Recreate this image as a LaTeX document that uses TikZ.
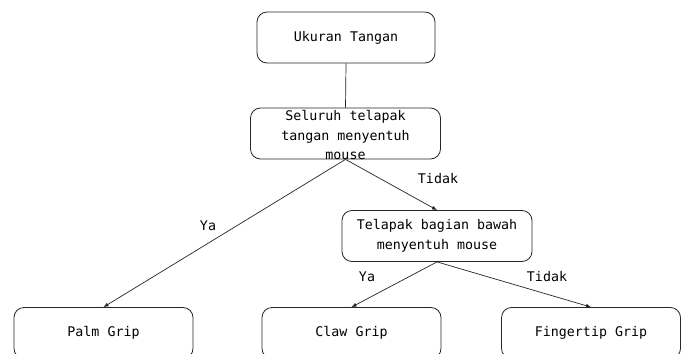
\documentclass[tikz,border=0pt]{standalone}
\usepackage{fontspec}
\newfontfamily\diagmono{DejaVu Sans Mono}
\usetikzlibrary{arrows.meta}
\begin{document}
\begin{tikzpicture}[x=1pt,y=-1pt,
  every node/.style={font=\diagmono\fontsize{13.3}{19.5}\selectfont, text=black},
  box/.style={draw=black!85, line width=0.8pt, rounded corners=10pt, rectangle,
              inner sep=0pt, align=center, minimum height=51pt},
  conn/.style={draw=black!85, line width=0.7pt},
  arr/.style={conn, -{Latex[length=5pt,width=4pt]}},
  lbl/.style={inner sep=1pt}]
\useasboundingbox (0,0) rectangle (687,353);
\fill[white] (0,0) rectangle (687,353);
\node[box, minimum width=178pt] (u) at (346,37.5) {Ukuran Tangan};
\node[box, minimum width=190pt] (s) at (345.5,133.5) {};
\node[inner sep=0pt, align=center] (stxt) at (345.5,135.5) {Seluruh telapak\\tangan menyentuh\\mouse};
\node[box, minimum width=190pt] (t) at (437,236) {Telapak bagian bawah\\menyentuh mouse};
\node[box, minimum width=179pt] (palm) at (103.5,333) {Palm Grip};
\node[box, minimum width=179pt] (claw) at (351.5,333) {Claw Grip};
\node[box, minimum width=179pt] (finger) at (591,333) {Fingertip Grip};
\draw[conn] (u.south) -- (s.north);
\draw[arr] (s.south) -- (palm.north);
\draw[arr] (s.south) -- (t.north);
\draw[arr] (t.south) -- (claw.north);
\draw[arr] (t.south) -- (finger.north);
\node[lbl] (ya1) at (208,226) {Ya};
\node[lbl] (tidak1) at (438,179) {Tidak};
\node[lbl] (ya2) at (367,277) {Ya};
\node[lbl] (tidak2) at (547,277) {Tidak};
\end{tikzpicture}
\end{document}
